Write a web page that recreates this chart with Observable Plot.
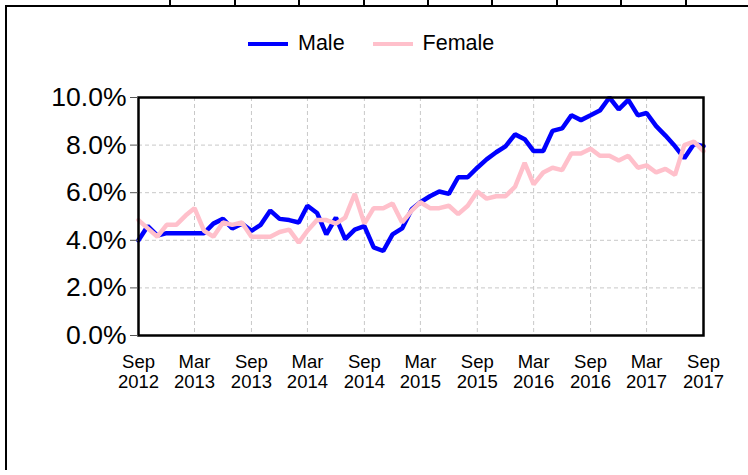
<!DOCTYPE html>
<html>
<head>
<meta charset="utf-8">
<script src="https://cdn.jsdelivr.net/npm/d3@7"></script>
<script src="https://cdn.jsdelivr.net/npm/@observablehq/plot@0.6"></script>
<style>
  html, body { margin: 0; padding: 0; background: #fff; }
  #wrap { position: relative; width: 748px; height: 475px; overflow: hidden; font-family: "Liberation Sans", Arial, sans-serif; }
  .rule { position: absolute; background: #000; }
  #legend { position: absolute; top: 31px; left: 248px; display: flex; align-items: center; font-size: 21.5px; color: #000; white-space: nowrap; }
  #legend .sw { display: inline-block; width: 40px; height: 4px; margin-right: 10px; }
  #legend .item { display: flex; align-items: center; margin-right: 28px; }
  #chart { position: absolute; left: 0; top: 0; }
</style>
</head>
<body>
<div id="wrap">
  <div id="chart"></div>
  <div id="legend"></div>
</div>
<script>
// ---- data ----
const startMonth = "2012-09";
const endMonth = "2017-09";
const male = [
  4.0, 4.6, 4.2, 4.3, 4.3, 4.3, 4.3, 4.3, 4.7, 4.9, 4.5, 4.7, 4.4,
  4.65, 5.25, 4.9, 4.85, 4.75, 5.45, 5.15, 4.25, 4.95, 4.05, 4.45, 4.6,
  3.7, 3.55, 4.25, 4.5, 5.3, 5.6, 5.85, 6.05, 5.95, 6.65, 6.65, 7.05,
  7.4, 7.7, 7.95, 8.45, 8.25, 7.75, 7.75, 8.6, 8.7, 9.25, 9.05, 9.25,
  9.45, 10.0, 9.5, 9.9, 9.25, 9.35, 8.8, 8.4, 7.95, 7.45, 8.05, 7.95
];
const female = [
  4.85, 4.5, 4.15, 4.65, 4.65, 5.05, 5.35, 4.4, 4.15, 4.75, 4.65, 4.75, 4.15,
  4.15, 4.15, 4.35, 4.45, 3.9, 4.4, 4.85, 4.85, 4.7, 4.95, 5.95, 4.7,
  5.35, 5.35, 5.55, 4.75, 5.25, 5.6, 5.35, 5.35, 5.45, 5.1, 5.45, 6.05,
  5.75, 5.85, 5.85, 6.25, 7.25, 6.35, 6.85, 7.05, 6.95, 7.65, 7.65, 7.85,
  7.55, 7.55, 7.35, 7.55, 7.05, 7.15, 6.85, 7.0, 6.75, 8.0, 8.15, 7.75
];
const seriesNames = ["Male", "Female"];
const seriesColors = ["#0000ff", "#ffc0cb"];
const xTickMonths = ["2012-09", "2013-03", "2013-09", "2014-03", "2014-09", "2015-03",
                     "2015-09", "2016-03", "2016-09", "2017-03", "2017-09"];
const xTickLabels = ["Sep\n2012", "Mar\n2013", "Sep\n2013", "Mar\n2014", "Sep\n2014", "Mar\n2015",
                     "Sep\n2015", "Mar\n2016", "Sep\n2016", "Mar\n2017", "Sep\n2017"];
const yTicks = [0, 2, 4, 6, 8, 10];

// ---- build ----
const parseMonth = d3.utcParse("%Y-%m");
const start = parseMonth(startMonth);
const end = parseMonth(endMonth);
const months = d3.utcMonth.range(start, d3.utcMonth.offset(end, 1));
const rows = [];
months.forEach((d, i) => {
  rows.push({date: d, value: male[i], series: "Male"});
});
months.forEach((d, i) => {
  rows.push({date: d, value: female[i], series: "Female"});
});
const xTicks = xTickMonths.map(parseMonth);
const xTickData = xTicks.map((d, i) => ({date: d, label: xTickLabels[i]}));

const gridStyle = {stroke: "#c8c8c8", strokeOpacity: 1, strokeWidth: 1, strokeDasharray: "4,3"};

const chart = Plot.plot({
  width: 748,
  height: 475,
  marginLeft: 138,
  marginRight: 45,
  marginTop: 97,
  marginBottom: 140,
  style: {fontFamily: "Liberation Sans, Arial, sans-serif", background: "transparent", overflow: "visible"},
  x: {type: "utc", domain: [start, end], axis: null},
  y: {domain: [0, 10], axis: null, label: null},
  color: {domain: seriesNames, range: seriesColors},
  marks: [
    Plot.gridY(yTicks, gridStyle),
    Plot.gridX(xTicks, gridStyle),
    Plot.lineY(rows.filter(d => d.series === "Male"), {x: "date", y: "value", stroke: "series", strokeWidth: 4.5, strokeLinejoin: "miter"}),
    Plot.lineY(rows.filter(d => d.series === "Female"), {x: "date", y: "value", stroke: "series", strokeWidth: 4.5, strokeLinejoin: "miter"}),
    Plot.frame({stroke: "#000", strokeWidth: 2.5}),
    Plot.axisY(yTicks, {
      tickFormat: d => d.toFixed(1) + "%", label: null,
      fontSize: 26.5, tickSize: 8, tickPadding: 4, stroke: "#555", fill: "#000"
    }),
    Plot.text(xTickData, {
      x: "date", text: "label", frameAnchor: "bottom", lineAnchor: "top",
      dy: 18, fontSize: 18.5, lineHeight: 1.1, fill: "#000"
    })
  ]
});
document.getElementById("chart").appendChild(chart);

// legend
const legend = document.getElementById("legend");
seriesNames.forEach((name, i) => {
  const item = document.createElement("span");
  item.className = "item";
  const sw = document.createElement("span");
  sw.className = "sw";
  sw.style.background = seriesColors[i];
  item.appendChild(sw);
  item.appendChild(document.createTextNode(name));
  legend.appendChild(item);
});

// page frame decorations (cut-off table border)
const wrap = document.getElementById("wrap");
function rule(l, t, w, h) {
  const r = document.createElement("div");
  r.className = "rule";
  r.style.left = l + "px"; r.style.top = t + "px";
  r.style.width = w + "px"; r.style.height = h + "px";
  wrap.appendChild(r);
}
rule(5, 5, 743, 2);
rule(5, 5, 2, 465);
[169, 234, 298, 363, 427, 491, 556, 620, 685].forEach(x => rule(x, 0, 2, 6));
</script>
</body>
</html>
